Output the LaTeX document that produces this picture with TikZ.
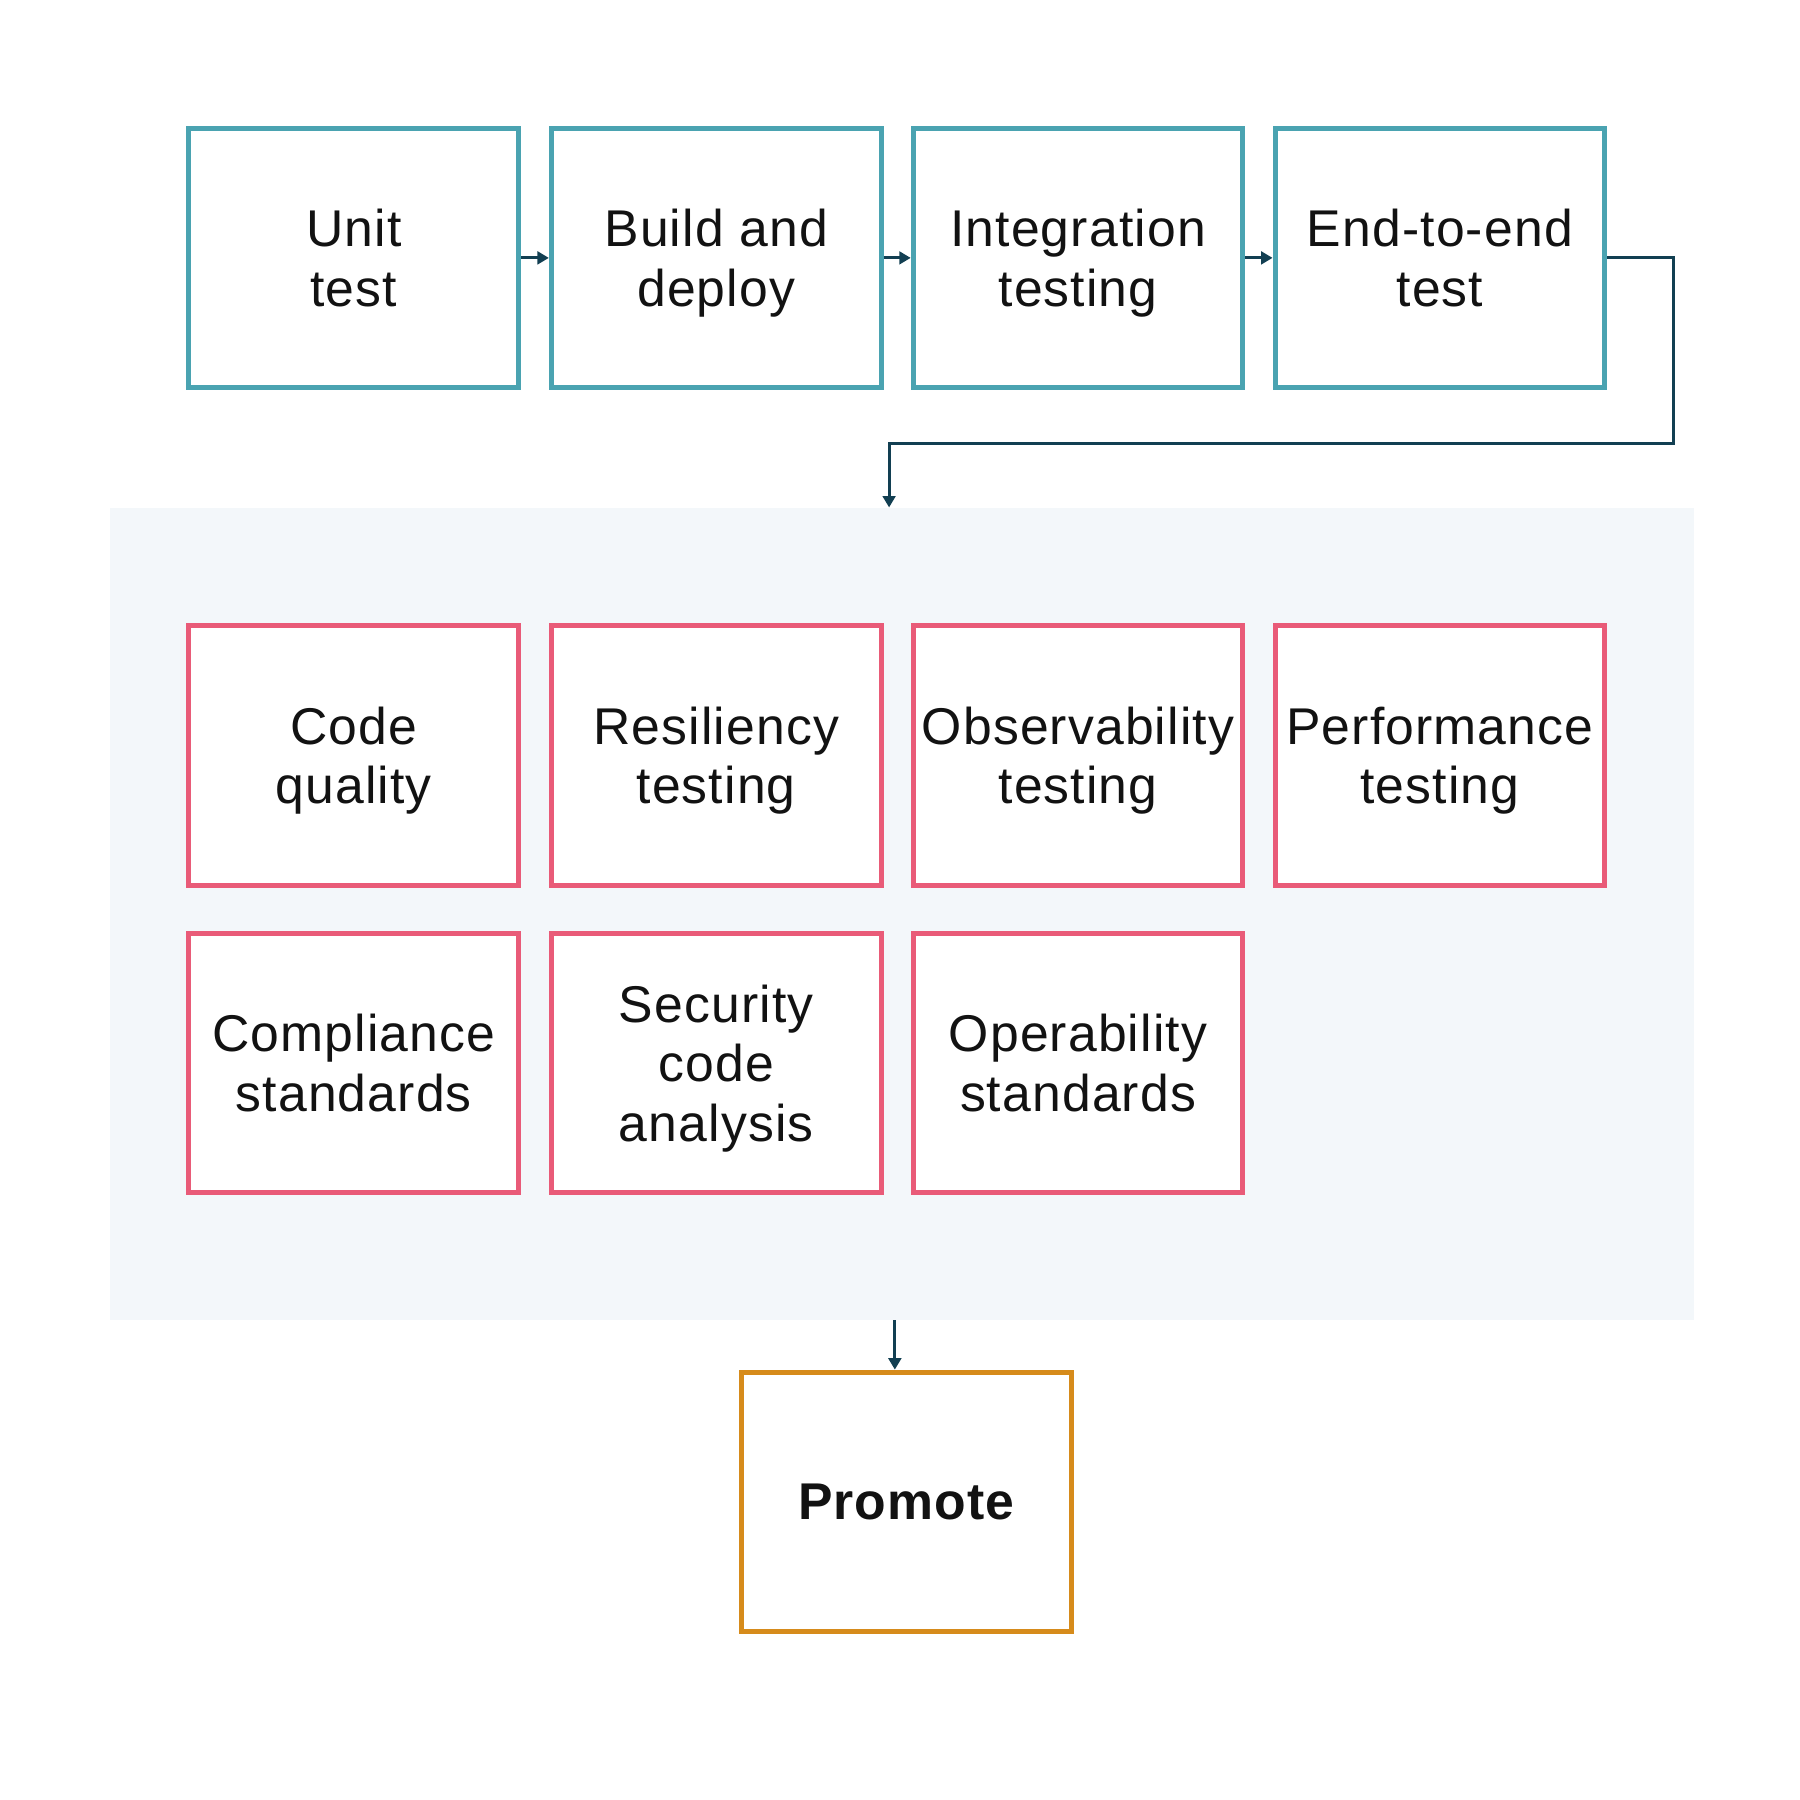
\documentclass[tikz,border=0pt]{standalone}
\usepackage{fontspec}
\setmainfont{Liberation Sans}[LetterSpace=2.2]
\usetikzlibrary{arrows.meta,calc}
\definecolor{tealc}{HTML}{4AA3B1}
\definecolor{pinkc}{HTML}{E95B78}
\definecolor{orangec}{HTML}{D68B1B}
\definecolor{linkc}{HTML}{123F52}
\definecolor{bgc}{HTML}{F3F7FA}
\definecolor{txtc}{HTML}{121212}
\tikzset{
  stagebox/.style={rectangle, draw, line width=4.3pt, fill=white, minimum width=287pt, minimum height=226pt, inner sep=0pt, align=center, text=txtc, font=\fontsize{45}{52}\selectfont, text depth=0pt},
  pipebox/.style={stagebox, draw=tealc},
  gatebox/.style={stagebox, draw=pinkc},
  promobox/.style={stagebox, draw=orangec, font=\fontsize{45}{52}\selectfont\bfseries},
  link/.style={draw=linkc, line width=2.6pt, -{Triangle[length=10pt,width=11pt]}},
}
\begin{document}
\begin{tikzpicture}[x=1pt,y=-1pt]
\useasboundingbox (0,0) rectangle (1567,1567);
\fill[white] (0,0) rectangle (1567,1567);
\node[rectangle, fill=bgc, minimum width=1379pt, minimum height=707pt, inner sep=0pt] (bg) at (785.5,795.5) {};
% top row
\node[pipebox] (unit) at (308,224.5) {Unit\\test};
\node[pipebox] (build) at (623.5,224.5) {Build and\\deploy};
\node[pipebox] (integ) at (938.5,224.5) {Integration\\testing};
\node[pipebox] (e2e) at (1253.5,224.5) {End-to-end\\test};
% gate rows
\node[gatebox] (code) at (308,657.5) {Code\\quality};
\node[gatebox] (resil) at (623.5,657.5) {Resiliency\\testing};
\node[gatebox] (obs) at (938.5,657.5) {Observability\\testing};
\node[gatebox] (perf) at (1253.5,657.5) {Performance\\testing};
\node[gatebox] (comp) at (308,925.5) {Compliance\\standards};
\node[gatebox] (sec) at (623.5,925.5) {Security\\code\\analysis};
\node[gatebox] (oper) at (938.5,925.5) {Operability\\standards};
% promote
\node[promobox] (prom) at (789,1307.5) {Promote};
% connectors
\draw[link] (unit.east) -- (build.west);
\draw[link] (build.east) -- (integ.west);
\draw[link] (integ.east) -- (e2e.west);
\coordinate (loopx) at (774,0);
\coordinate (turn) at (1457,386);
\draw[link] (e2e.east) -| (turn) -| (bg.north -| loopx);
\coordinate (promx) at (779,0);
\draw[link] (bg.south -| promx) -- (prom.north -| promx);
\end{tikzpicture}
\end{document}
